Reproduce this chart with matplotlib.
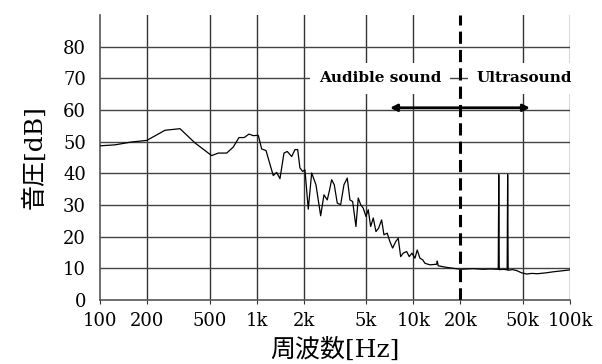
import matplotlib
matplotlib.use('Agg')
import matplotlib.pyplot as plt

# Measured sound pressure spectrum (Hz, dB)
freq = [101, 125, 159, 199, 260, 324, 404, 516, 569, 644, 709, 771, 833, 893, 951,
        1024, 1076, 1147, 1276, 1342, 1408, 1494, 1568, 1673, 1756, 1827, 1889, 1966,
        2033, 2135, 2244, 2390, 2561, 2689, 2822, 2906, 3010, 3128, 3269, 3436, 3607,
        3787, 3938, 4099, 4302, 4450, 4610, 4790, 4983, 5155, 5340, 5549, 5773, 6004,
        6276, 6493, 6813, 7090, 7378, 7709, 8009, 8299, 8621, 9065, 9416, 9797, 10240,
        10590, 11020, 11470, 11860, 12760, 14100, 14210, 14420, 16310, 20000, 24000,
        27930, 31000, 34830, 35100, 35350, 38000, 39700, 40000, 40300, 43000, 45620,
        49000, 52870, 57000, 62000, 70920, 78000, 85000, 92000, 100000]
level = [48.7, 49.0, 49.9, 50.4, 53.6, 54.1, 49.6, 45.6, 46.4, 46.4, 48.3, 51.3, 51.3,
         52.4, 51.9, 52.0, 47.7, 47.2, 39.3, 40.3, 38.3, 46.4, 46.9, 45.3, 47.5, 47.5,
         41.7, 40.6, 41.1, 28.7, 40.1, 36.4, 26.6, 33.2, 31.6, 34.3, 38.0, 36.4, 30.6,
         30.1, 36.4, 38.5, 31.6, 31.1, 23.2, 32.2, 30.1, 29.0, 26.4, 28.5, 23.2, 25.9,
         21.6, 22.7, 25.3, 20.6, 21.1, 18.4, 16.4, 18.4, 19.5, 13.7, 14.8, 15.3, 13.7,
         14.8, 13.2, 15.8, 13.2, 12.7, 11.6, 11.1, 11.3, 12.3, 10.8, 10.3, 9.7, 9.9,
         9.7, 9.8, 9.7, 39.6, 9.6, 9.7, 9.5, 39.6, 9.4, 9.6, 9.3, 8.6, 8.2, 8.4, 8.3,
         8.6, 8.9, 9.1, 9.3, 9.5]

xticks = [100, 200, 500, 1000, 2000, 5000, 10000, 20000, 50000, 100000]
xtick_labels = ['100', '200', '500', '1k', '2k', '5k', '10k', '20k', '50k', '100k']
yticks = [0, 10, 20, 30, 40, 50, 60, 70, 80]

serif = 'DejaVu Serif'
jp = [serif, 'Noto Sans CJK JP']

fig = plt.figure(figsize=(6.02, 3.64), dpi=100)
ax = fig.add_axes([100 / 602, 1 - 300 / 364, 470 / 602, 285 / 364])

ax.set_xscale('log')
ax.set_xlim(100, 100000)
ax.set_ylim(0, 90)

# grid
for x in xticks[1:]:
    if x == 20000:
        continue
    ax.axvline(x, color='#333333', lw=1.0, zorder=1)
for y in yticks[1:]:
    ax.axhline(y, color='#444444', lw=1.0, zorder=1)

# audible / ultrasonic boundary
ax.axvline(20000, color='black', lw=2.2, ls=(0, (4, 2)), zorder=4)

ax.plot(freq, level, color='black', lw=0.9, zorder=5)

box = dict(boxstyle='square,pad=0.55', fc='white', ec='none')
ax.text(6120, 70, 'Audible sound', ha='center', va='center', fontsize=11,
        fontweight='bold', family=serif, bbox=box, zorder=3)
ax.text(50800, 70, 'Ultrasound', ha='center', va='center', fontsize=11,
        fontweight='bold', family=serif, bbox=box, zorder=3, clip_on=False)
ax.annotate('', xy=(7100, 60.7), xytext=(55500, 60.7),
            arrowprops=dict(arrowstyle='<|-|>', color='black', lw=2.0,
                            mutation_scale=10, shrinkA=0, shrinkB=0), zorder=6)

ax.set_xticks(xticks)
ax.set_xticklabels(xtick_labels)
ax.minorticks_off()
ax.set_yticks(yticks)
ax.tick_params(axis='x', length=3, color='#333333', pad=6, labelsize=13)
ax.tick_params(axis='y', length=0, pad=10, labelsize=13)
for lab in ax.get_xticklabels() + ax.get_yticklabels():
    lab.set_family(serif)

for side in ['top', 'right']:
    ax.spines[side].set_visible(False)
for side in ['left', 'bottom']:
    ax.spines[side].set_color('#555555')
    ax.spines[side].set_linewidth(1.2)

ax.set_xlabel('周波数[Hz]', family=jp, fontsize=18, labelpad=5)
ax.set_ylabel('音圧[dB]', family=jp, fontsize=18, labelpad=12)

fig.savefig('out.png', dpi=100)
